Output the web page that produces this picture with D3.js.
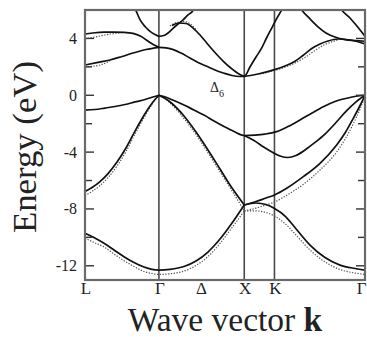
<!DOCTYPE html>
<html>
<head>
<meta charset="utf-8">
<script src="https://cdn.jsdelivr.net/npm/d3@7"></script>
<style>
  html, body { margin: 0; padding: 0; background: #fff; }
  svg { display: block; }
</style>
</head>
<body>
<svg id="chart" width="367" height="339"></svg>
<script>
// ---- data (k in units of 2π/a, energies in eV) ----
const kPoints = [0, 0.866, 1.866, 2.220, 3.281];
const kLabels = ["L", "Γ", "X", "K", "Γ"];
const kMidLabel = { k: 1.366, text: "Δ" };
const energyMajor = [4, 0, -4, -8, -12];
const energyMinor = [2, -2, -6, -10];
const energyDomain = [-13, 6];

// conduction bands (solid)
const cbL3 = [[0,4.31],[0.117,4.40],[0.223,4.44],[0.340,4.45],[0.457,4.43],[0.562,4.35],[0.653,4.15],[0.770,3.68],[0.866,3.375]];
const cbL1 = [[0,2.13],[0.152,2.31],[0.293,2.48],[0.434,2.73],[0.562,2.97],[0.715,3.22],[0.866,3.375]];
const cbG2 = [[0.585,6.1],[0.594,6.0],[0.644,5.32],[0.703,4.84],[0.762,4.50],[0.820,4.28],[0.866,4.15],[0.926,4.205],[0.973,4.38],[1.035,4.73],[1.090,5.015],[1.152,5.32],[1.207,5.65],[1.269,6.0],[1.276,6.1]];
const cbD2 = [[1.019,4.91],[1.101,5.085],[1.183,5.05],[1.266,4.73],[1.348,4.24],[1.426,3.68],[1.523,3.01],[1.621,2.39],[1.723,1.85],[1.816,1.46],[1.866,1.334],[1.933,1.99],[2.004,2.69],[2.071,3.33],[2.127,4.03],[2.188,4.73],[2.244,5.37],[2.305,6.0],[2.315,6.1]];
const cbD1 = [[0.866,3.375],[0.949,3.33],[1.035,3.21],[1.125,2.97],[1.230,2.62],[1.324,2.305],[1.426,2.04],[1.523,1.78],[1.621,1.57],[1.723,1.39],[1.816,1.32],[1.866,1.334],[2.051,1.53],[2.221,1.80],[2.344,2.06],[2.461,2.39],[2.554,2.80],[2.657,3.29],[2.754,3.61],[2.847,3.82],[2.965,3.96],[3.105,3.89],[3.281,3.62]];
const cbC2 = [[2.527,6.1],[2.539,6.0],[2.637,5.37],[2.734,4.80],[2.824,4.38],[2.929,4.10],[3.047,3.92],[3.164,3.85],[3.281,3.80]];
const cbC3 = [[2.996,6.1],[3.008,6.0],[3.105,5.44],[3.176,4.94],[3.242,4.45],[3.281,4.15]];

// valence bands (solid)
const vbL3p = [[0,-1.04],[0.117,-1.00],[0.234,-0.90],[0.352,-0.79],[0.469,-0.65],[0.586,-0.47],[0.703,-0.30],[0.785,-0.14],[0.866,0]];
const vbL1 = [[0,-6.77],[0.082,-6.49],[0.176,-6.07],[0.270,-5.51],[0.375,-4.70],[0.480,-3.71],[0.586,-2.52],[0.680,-1.53],[0.762,-0.76],[0.820,-0.30],[0.866,0]];
const vbLow = [[0,-9.71],[0.105,-10.01],[0.223,-10.42],[0.340,-10.89],[0.457,-11.36],[0.574,-11.77],[0.691,-12.09],[0.785,-12.25],[0.866,-12.30],[0.996,-12.25],[1.160,-12.05],[1.301,-11.66],[1.441,-11.03],[1.582,-10.12],[1.723,-8.99],[1.866,-7.72]];
const vbSteep = [[0.866,0],[0.926,-0.18],[1.019,-0.58],[1.160,-1.46],[1.301,-2.59],[1.441,-3.85],[1.582,-5.19],[1.723,-6.53],[1.866,-7.72]];
const vbTop = [[0.866,0],[0.926,-0.09],[1.043,-0.37],[1.160,-0.69],[1.277,-1.04],[1.394,-1.39],[1.512,-1.81],[1.629,-2.20],[1.746,-2.55],[1.866,-2.83],[1.992,-2.80],[2.109,-2.73],[2.246,-2.56],[2.379,-2.20],[2.519,-1.74],[2.660,-1.25],[2.792,-0.81],[2.929,-0.44],[3.067,-0.21],[3.176,-0.07],[3.281,0]];
const vbXKlow = [[1.866,-2.83],[1.980,-3.18],[2.089,-3.62],[2.191,-3.99],[2.285,-4.27],[2.379,-4.38],[2.472,-4.24],[2.578,-3.85],[2.695,-3.32],[2.812,-2.73],[2.941,-1.92],[3.058,-1.14],[3.176,-0.47],[3.281,0]];
const vbXKrise = [[1.866,-7.72],[2.004,-7.48],[2.121,-7.23],[2.221,-7.02],[2.363,-6.55],[2.558,-5.73],[2.754,-4.79],[2.949,-3.50],[3.047,-2.66],[3.144,-1.62],[3.223,-0.72],[3.281,0]];
const vbXKflat = [[1.866,-7.72],[2.004,-7.58],[2.121,-7.69],[2.221,-7.97],[2.344,-8.50],[2.484,-9.48],[2.637,-10.54],[2.812,-11.42],[2.988,-11.95],[3.164,-12.19],[3.281,-12.30]];

// second calculation (dotted), where it departs from the solid one
const dtL3 = [[0,3.96],[0.117,4.10],[0.234,4.24],[0.352,4.35],[0.457,4.42]];
const dtL1 = [[0,1.99],[0.176,2.13],[0.293,2.41]];
const dtD2 = [[0.996,4.87],[1.078,5.13],[1.160,5.19],[1.230,5.03],[1.301,4.63]];
const dtC1 = [[2.051,1.50],[2.221,1.74],[2.461,2.27],[2.578,2.66],[2.695,3.15],[2.812,3.57],[2.965,3.89]];
const dtVL1 = [[0,-7.06],[0.082,-6.77],[0.176,-6.35],[0.270,-5.79],[0.375,-4.98],[0.480,-3.96],[0.586,-2.73],[0.680,-1.71],[0.762,-0.86],[0.820,-0.33],[0.866,0]];
const dtLow = [[0,-10.05],[0.105,-10.36],[0.223,-10.68],[0.340,-11.17],[0.457,-11.64],[0.574,-12.05],[0.691,-12.40],[0.785,-12.54],[0.866,-12.61],[0.996,-12.56],[1.160,-12.37],[1.301,-11.98],[1.441,-11.35],[1.582,-10.43],[1.723,-9.31],[1.866,-8.14]];
const dtSteep = [[0.866,0],[0.949,-0.30],[1.043,-0.83],[1.183,-1.81],[1.324,-2.97],[1.465,-4.27],[1.605,-5.61],[1.746,-6.95],[1.866,-8.14]];
const dtXKrise = [[1.866,-8.14],[2.004,-7.94],[2.121,-7.72],[2.221,-7.51],[2.379,-6.98],[2.578,-6.18],[2.754,-5.26],[2.953,-3.96],[3.140,-2.06],[3.223,-0.97],[3.281,-0.05]];
const dtXKflat = [[1.866,-8.14],[2.004,-8.14],[2.121,-8.25],[2.221,-8.50],[2.344,-9.03],[2.484,-9.91],[2.637,-10.89],[2.812,-11.73],[2.988,-12.26],[3.164,-12.51],[3.281,-12.61]];

const solidBands = [cbL3, cbL1, cbG2, cbD2, cbD1, cbC2, cbC3, vbL3p, vbL1, vbLow, vbSteep, vbTop, vbXKlow, vbXKrise, vbXKflat];
const dottedBands = [dtL3, dtL1, dtD2, dtC1, dtVL1, dtLow, dtSteep, dtXKrise, dtXKflat];

// ---- drawing ----
const svg = d3.select("#chart");
const pLeft = 85, pRight = 365, pTop = 10, pBottom = 280;
const x = d3.scaleLinear().domain([kPoints[0], kPoints[kPoints.length - 1]]).range([pLeft, pRight]);
const y = d3.scaleLinear().domain(energyDomain).range([pBottom, pTop]);
const serif = "'Liberation Serif', 'DejaVu Serif', serif";

svg.append("defs").append("clipPath").attr("id", "plotclip")
  .append("rect").attr("x", pLeft).attr("y", pTop).attr("width", pRight - pLeft).attr("height", pBottom - pTop);

const plot = svg.append("g").attr("clip-path", "url(#plotclip)");

// high-symmetry vertical lines
plot.selectAll("line.sym").data(kPoints.slice(1, -1)).enter().append("line")
  .attr("class", "sym")
  .attr("x1", d => x(d)).attr("x2", d => x(d))
  .attr("y1", pTop).attr("y2", pBottom)
  .attr("stroke", "#4a4a4a").attr("stroke-width", 1.6);

const line = d3.line().x(d => x(d[0])).y(d => y(d[1])).curve(d3.curveMonotoneX);

plot.selectAll("path.dot").data(dottedBands).enter().append("path")
  .attr("class", "dot")
  .attr("d", line)
  .attr("fill", "none").attr("stroke", "#555").attr("stroke-width", 1.2)
  .attr("stroke-dasharray", "1.3,1.5");

plot.selectAll("path.band").data(solidBands).enter().append("path")
  .attr("class", "band")
  .attr("d", line)
  .attr("fill", "none").attr("stroke", "#111").attr("stroke-width", 1.7)
  .attr("stroke-linejoin", "round");

// axis ticks (inward, both sides)
const allTicks = energyMajor.concat(energyMinor);
svg.selectAll("line.tl").data(allTicks).enter().append("line")
  .attr("x1", pLeft).attr("x2", d => pLeft + (energyMajor.includes(d) ? 9 : 7))
  .attr("y1", d => y(d)).attr("y2", d => y(d))
  .attr("stroke", "#333").attr("stroke-width", 1.4);
svg.selectAll("line.tr").data(allTicks).enter().append("line")
  .attr("x1", pRight).attr("x2", d => pRight - (energyMajor.includes(d) ? 9 : 7))
  .attr("y1", d => y(d)).attr("y2", d => y(d))
  .attr("stroke", "#333").attr("stroke-width", 1.4);

// frame
svg.append("rect").attr("x", pLeft).attr("y", pTop).attr("width", pRight - pLeft).attr("height", pBottom - pTop)
  .attr("fill", "none").attr("stroke", "#6a6a6a").attr("stroke-width", 2.2);

// y tick labels
svg.selectAll("text.yl").data(energyMajor).enter().append("text")
  .attr("x", 77).attr("y", d => y(d) + 5.5)
  .attr("text-anchor", "end")
  .attr("font-family", serif).attr("font-size", 16).attr("fill", "#222")
  .text(d => String(d));

// x tick labels
svg.selectAll("text.xl").data(kPoints).enter().append("text")
  .attr("x", (d, i) => i === kPoints.length - 1 ? 366.5 : x(d) + 1).attr("y", 294)
  .attr("text-anchor", (d, i) => i === kPoints.length - 1 ? "end" : "middle")
  .attr("font-family", serif).attr("font-size", 17).attr("fill", "#222")
  .text((d, i) => kLabels[i]);
svg.append("text").attr("x", x(kMidLabel.k)).attr("y", 294)
  .attr("text-anchor", "middle")
  .attr("font-family", serif).attr("font-size", 17).attr("fill", "#222")
  .text(kMidLabel.text);

// annotation Δ6
const ann = svg.append("text").attr("x", 210).attr("y", 92)
  .attr("font-family", serif).attr("font-size", 14).attr("fill", "#222");
ann.append("tspan").text("Δ");
ann.append("tspan").attr("font-size", 10).attr("dy", 5).text("6");

// axis titles
svg.append("text")
  .attr("transform", "translate(35.5,147) rotate(-90)")
  .attr("text-anchor", "middle")
  .attr("font-family", serif).attr("font-size", 34).attr("fill", "#222")
  .attr("textLength", 172).attr("lengthAdjust", "spacingAndGlyphs")
  .text("Energy (eV)");

const xt = svg.append("text").attr("x", 225).attr("y", 331)
  .attr("text-anchor", "middle")
  .attr("font-family", serif).attr("font-size", 33.5).attr("fill", "#222");
xt.append("tspan").text("Wave vector ");
xt.append("tspan").attr("font-weight", "bold").text("k");
</script>
</body>
</html>
